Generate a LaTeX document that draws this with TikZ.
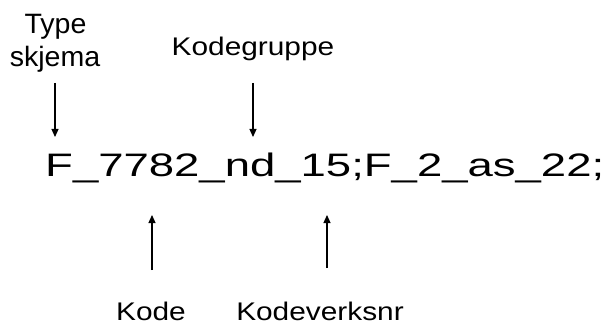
\documentclass[tikz,border=0pt]{standalone}
\usepackage{fontspec}
\setmainfont{Liberation Sans}
\usetikzlibrary{arrows.meta}
\newcommand{\lbl}[1]{\scalebox{1.17}[1]{\fontsize{25.5}{25.5}\selectfont #1}}
\newcommand{\lbt}[1]{\scalebox{1.02}[1]{\fontsize{28}{28}\selectfont #1}}
\begin{document}
\begin{tikzpicture}[x=1pt,y=-1pt,
  lab/.style={inner sep=0pt,anchor=base},
  arr/.style={line width=1.1pt,-{Triangle[length=8pt,width=7pt]}}]
\useasboundingbox[fill=white] (0,0) rectangle (606,329);
\node[lab] (type) at (55.5,34) {\lbt{Type}};
\node[lab] (skj) at (55,67) {\lbt{skjema}};
\node[lab] (kg) at (253,56) {\lbl{Kodegruppe}};
\node[lab] (kode) at (151,320) {\lbl{Kode}};
\node[lab] (kvn) at (320,320) {\lbl{Kodeverksnr}};
\node[inner sep=0pt,anchor=base west] (main) at (45,176.5)
  {\scalebox{1.4}[1]{\fontsize{32.5}{32.5}\selectfont F\_7782\_nd\_15;F\_2\_as\_22;}};
\coordinate (a1s) at (55,83);  \coordinate (a1e) at (55,137);
\coordinate (a2s) at (253,83); \coordinate (a2e) at (253,137);
\coordinate (a3s) at (152,270); \coordinate (a3e) at (152,215);
\coordinate (a4s) at (327,268); \coordinate (a4e) at (327,215);
\draw[arr] (a1s) -- (a1e);
\draw[arr] (a2s) -- (a2e);
\draw[arr] (a3s) -- (a3e);
\draw[arr] (a4s) -- (a4e);
\end{tikzpicture}
\end{document}
